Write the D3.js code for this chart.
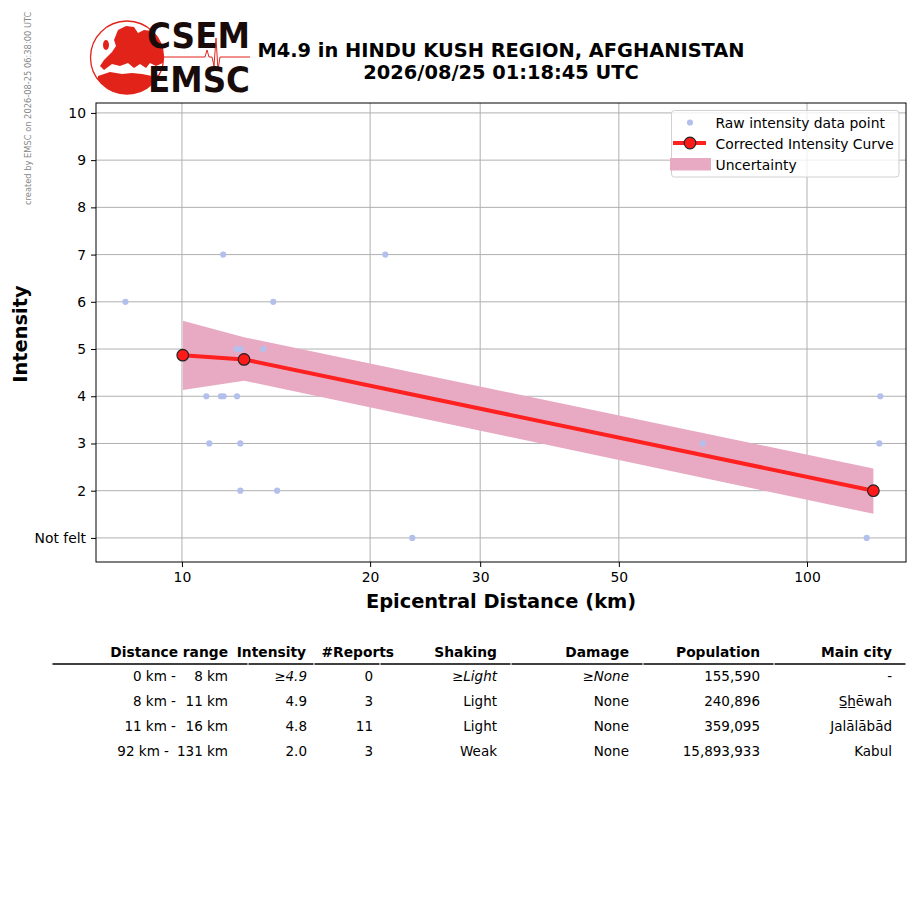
<!DOCTYPE html>
<html>
<head>
<meta charset="utf-8">
<script src="https://cdn.jsdelivr.net/npm/d3@7"></script>
<style>
  body { margin: 0; background: #fff; }
  svg { font-family: "DejaVu Sans", sans-serif; }
</style>
</head>
<body>
<div class="main"></div>
<script>
// raw intensity reports (distance km, intensity)
var rawDist = [8.12, 11.64, 21.15, 14.0, 12.23, 12.41, 13.49, 10.94, 11.54, 11.66, 12.25, 11.06, 12.40, 12.40, 14.2, 23.36, 131, 130.5, 68.1, 124.6];
var rawInt = [6, 7, 7, 6, 5, 5, 5, 4, 4, 4, 4, 3, 3, 2, 2, 1, 4, 3, 3, 1];

// corrected curve + uncertainty band
var curveDist = [10.03, 12.57, 127.7];
var curveInt = [4.87, 4.78, 2.0];
var bandUpper = [5.60, 5.25, 2.47];
var bandLower = [4.13, 4.33, 1.51];

var xTicks = [10, 20, 30, 50, 100];
var yTicks = [1, 2, 3, 4, 5, 6, 7, 8, 9, 10];

// table
var headers = ["Distance range", "Intensity", "#Reports", "Shaking", "Damage", "Population", "Main city"];
var distLo = [0, 8, 11, 92];
var distHi = [8, 11, 16, 131];
var tabIntensity = ["\u22654.9", "4.9", "4.8", "2.0"];
var tabReports = [0, 3, 11, 3];
var tabShaking = ["\u2265Light", "Light", "Light", "Weak"];
var tabDamage = ["\u2265None", "None", "None", "None"];
var tabPopulation = [155590, 240896, 359095, 15893933];
var tabCity = ["-", "S\u0332h\u0332\u0113wah", "Jal\u0101l\u0101b\u0101d", "Kabul"];

var titleLines = ["M4.9 in HINDU KUSH REGION, AFGHANISTAN", "2026/08/25 01:18:45 UTC"];

var W = 915, H = 905;
var svg = d3.select(".main").append("svg")
  .attr("width", W).attr("height", H);
svg.append("rect").attr("width", W).attr("height", H).attr("fill", "#fff");

// plot area
var pLeft = 96, pRight = 906, pTop = 103, pBottom = 562;
var x = d3.scaleLog().domain([7.286, 144]).range([pLeft, pRight]);
var y = d3.scaleLinear().domain([0.49, 10.21]).range([pBottom, pTop]);

// grid
var grid = svg.append("g");
grid.selectAll("line.gx").data(xTicks).join("line")
  .attr("x1", d => x(d)).attr("x2", d => x(d))
  .attr("y1", pTop).attr("y2", pBottom)
  .attr("stroke", "#b0b0b0").attr("stroke-width", 1);
grid.selectAll("line.gy").data(yTicks).join("line")
  .attr("x1", pLeft).attr("x2", pRight)
  .attr("y1", d => y(d)).attr("y2", d => y(d))
  .attr("stroke", "#b0b0b0").attr("stroke-width", 1);

// uncertainty band
var bandData = curveDist.map((d, i) => ({ d: d, lo: bandLower[i], hi: bandUpper[i] }));
svg.append("path")
  .datum(bandData)
  .attr("fill", "#e8aac3")
  .attr("d", d3.area().x(d => x(d.d)).y0(d => y(d.hi)).y1(d => y(d.lo)));

// raw points
svg.append("g").selectAll("circle")
  .data(rawDist.map((d, i) => [d, rawInt[i]]))
  .join("circle")
  .attr("cx", d => x(d[0])).attr("cy", d => y(d[1]))
  .attr("r", 3.1).attr("fill", "#b3c0ec");

// corrected curve
var curveData = curveDist.map((d, i) => [d, curveInt[i]]);
svg.append("path")
  .datum(curveData)
  .attr("fill", "none").attr("stroke", "#ff2020").attr("stroke-width", 4)
  .attr("d", d3.line().x(d => x(d[0])).y(d => y(d[1])));
svg.append("g").selectAll("circle")
  .data(curveData).join("circle")
  .attr("cx", d => x(d[0])).attr("cy", d => y(d[1]))
  .attr("r", 5.8).attr("fill", "#ff1a1a")
  .attr("stroke", "#222").attr("stroke-width", 1.2);

// frame
svg.append("rect")
  .attr("x", pLeft).attr("y", pTop)
  .attr("width", pRight - pLeft).attr("height", pBottom - pTop)
  .attr("fill", "none").attr("stroke", "#000").attr("stroke-width", 1);

// axes
var xAxis = svg.append("g")
  .attr("transform", "translate(0," + pBottom + ")")
  .call(d3.axisBottom(x).tickValues(xTicks).tickFormat(d3.format("d")).tickSize(5).tickPadding(5));
var yAxis = svg.append("g")
  .attr("transform", "translate(" + pLeft + ",0)")
  .call(d3.axisLeft(y).tickValues(yTicks).tickFormat(d => d === 1 ? "Not felt" : d).tickSize(5).tickPadding(5));
[xAxis, yAxis].forEach(function(a) {
  a.select(".domain").remove();
  a.selectAll("text").attr("font-size", 13.9).attr("font-family", "DejaVu Sans").attr("fill", "#000");
  a.selectAll("line").attr("stroke", "#000");
});

// axis labels
svg.append("text")
  .attr("x", (pLeft + pRight) / 2).attr("y", 608)
  .attr("text-anchor", "middle").attr("font-size", 19.4).attr("font-weight", "bold")
  .text("Epicentral Distance (km)");
svg.append("text")
  .attr("transform", "translate(27,334) rotate(-90)")
  .attr("text-anchor", "middle").attr("font-size", 19.4).attr("font-weight", "bold")
  .text("Intensity");

// title
svg.selectAll("text.title").data(titleLines).join("text")
  .attr("x", 501).attr("y", (d, i) => 57 + i * 22)
  .attr("text-anchor", "middle").attr("font-size", 19.4).attr("font-weight", "bold")
  .text(d => d);

// created by stamp
svg.append("text")
  .attr("transform", "translate(31,205) rotate(-90)")
  .attr("font-size", 8.3).attr("fill", "#888")
  .text("created by EMSC on 2026-08-25 06:38:00 UTC");

// legend
var leg = svg.append("g");
leg.append("rect")
  .attr("x", 671.5).attr("y", 110.5).attr("width", 227.5).attr("height", 66.5)
  .attr("rx", 3).attr("fill", "#fff").attr("fill-opacity", 0.8)
  .attr("stroke", "#d0d0d0").attr("stroke-width", 1);
leg.append("circle").attr("cx", 690).attr("cy", 122.5).attr("r", 3.1).attr("fill", "#b3c0ec");
leg.append("line").attr("x1", 673).attr("x2", 706).attr("y1", 143).attr("y2", 143)
  .attr("stroke", "#ff2020").attr("stroke-width", 4);
leg.append("circle").attr("cx", 690).attr("cy", 143).attr("r", 5.8)
  .attr("fill", "#ff1a1a").attr("stroke", "#222").attr("stroke-width", 1.2);
leg.append("rect").attr("x", 670).attr("y", 158).attr("width", 41).attr("height", 12.5).attr("fill", "#e8aac3");
var legLabels = ["Raw intensity data point", "Corrected Intensity Curve", "Uncertainty"];
leg.selectAll("text").data(legLabels).join("text")
  .attr("x", 715.5).attr("y", (d, i) => 127.5 + i * 21)
  .attr("font-size", 13.9).text(d => d);

// logo (globe with rough europe/africa outline)
var logo = svg.append("g");
logo.append("clipPath").attr("id", "globe")
  .append("circle").attr("cx", 127).attr("cy", 57.5).attr("r", 36.5);
var land = logo.append("g").attr("clip-path", "url(#globe)").attr("fill", "#e2231a");
land.append("path").attr("d",
  "M118,30 L126,26 L134,27 L138,33 L144,30 L152,31 L160,36 L165,44 L165,62 L156,66 L150,63 L146,68 " +
  "L140,64 L134,68 L128,63 L120,66 L112,64 L104,70 L100,66 L104,60 L108,56 L112,52 L116,46 L114,40 Z");
land.append("ellipse").attr("cx", 106).attr("cy", 45).attr("rx", 3).attr("ry", 5);
land.append("path").attr("d",
  "M98,76 L110,72 L122,74 L132,73 L142,74 L152,76 L166,74 L166,96 L96,96 Z");
logo.append("circle").attr("cx", 127).attr("cy", 57.5).attr("r", 36.5)
  .attr("fill", "none").attr("stroke", "#e2231a").attr("stroke-width", 1.3);
logo.append("polyline")
  .attr("points", "162,57 205,57 207,50 209,57 212,57 214,66 216,38 218,70 220,57 250,57")
  .attr("fill", "none").attr("stroke", "#e2231a").attr("stroke-width", 1);
logo.append("text").attr("x", 147).attr("y", 48).attr("font-size", 35).attr("font-weight", "bold")
  .attr("textLength", 103).attr("lengthAdjust", "spacingAndGlyphs").attr("fill", "#1a0b0b").text("CSEM");
logo.append("text").attr("x", 148).attr("y", 92).attr("font-size", 35).attr("font-weight", "bold")
  .attr("textLength", 102).attr("lengthAdjust", "spacingAndGlyphs").attr("fill", "#1a0b0b").text("EMSC");

// table
var tab = svg.append("g").attr("font-size", 13.5);
var headRight = [228, 306, 394, 497, 629, 760, 892];
var cellRight = [228, 307, 373, 497, 629, 760, 892];
tab.selectAll("text.h").data(headers).join("text")
  .attr("x", (d, i) => headRight[i]).attr("y", 656.5)
  .attr("text-anchor", "end").attr("font-weight", "bold").attr("font-size", 13.8).text(d => d);
var cuts = [52, 248, 314, 380, 511, 643, 774, 906];
tab.selectAll("line").data(d3.pairs(cuts)).join("line")
  .attr("x1", d => d[0] + 0.5).attr("x2", d => d[1] - 0.5)
  .attr("y1", 664).attr("y2", 664)
  .attr("stroke", "#000").attr("stroke-width", 1.3);
var fmt = d3.format(",");
distLo.forEach(function(lo, r) {
  var yy = 680.5 + r * 25;
  var it = r === 0 ? "italic" : "normal";
  var cells = [
    [distHi[r] + " km", "normal"],
    [tabIntensity[r], it],
    [tabReports[r], "normal"],
    [tabShaking[r], it],
    [tabDamage[r], it],
    [fmt(tabPopulation[r]), "normal"],
    [tabCity[r], "normal"]
  ];
  var first;
  cells.forEach(function(c, i) {
    var t = tab.append("text").attr("x", cellRight[i]).attr("y", yy)
      .attr("text-anchor", "end").attr("font-style", c[1]).text(c[0]);
    if (i === 0) first = t;
  });
  // left half of the distance range sits just before the right half
  var w = first.node().getComputedTextLength();
  tab.append("text").attr("x", Math.min(176, 220 - w)).attr("y", yy)
    .attr("text-anchor", "end").text(lo + " km -");
});
</script>
</body>
</html>
